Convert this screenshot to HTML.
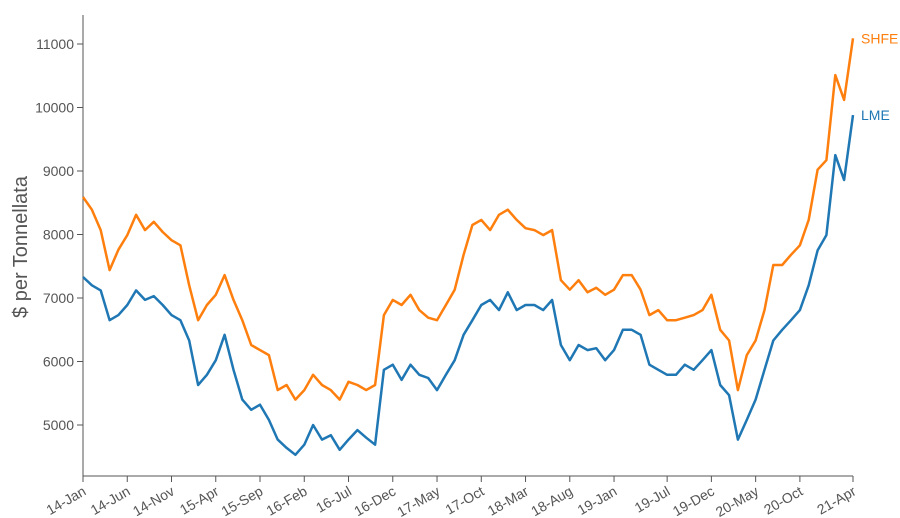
<!DOCTYPE html>
<html><head><meta charset="utf-8"><style>
html,body{margin:0;padding:0;background:#fff;}
svg{display:block;font-family:"Liberation Sans",sans-serif;}
</style></head><body>
<svg id="chart" width="900" height="518" viewBox="0 0 900 518">
<g id="axes"></g>
<g id="plot"></g>
<text transform="translate(27,247) rotate(-90)" text-anchor="middle" font-size="20" fill="#555">$ per Tonnellata</text>
</svg>
<script>
const months = 88;
const lmeValues = [7330,7200,7120,6650,6730,6890,7120,6970,7030,6890,6730,6650,6330,5630,5790,6020,6420,5870,5400,5240,5320,5080,4770,4640,4530,4690,5000,4770,4840,4610,4770,4920,4800,4690,5870,5950,5710,5950,5790,5740,5550,5790,6020,6420,6650,6890,6970,6810,7090,6810,6890,6890,6810,6970,6260,6020,6260,6180,6210,6020,6180,6500,6500,6420,5950,5870,5790,5790,5950,5870,6020,6180,5630,5470,4770,5080,5400,5870,6330,6500,6650,6810,7200,7750,7990,9250,8860,9880];
const shfeValues = [8590,8390,8070,7440,7760,7990,8310,8070,8200,8040,7910,7830,7200,6650,6890,7050,7360,6970,6650,6260,6180,6100,5550,5630,5400,5550,5790,5630,5550,5400,5680,5630,5550,5630,6730,6970,6890,7050,6810,6690,6650,6890,7130,7680,8150,8230,8070,8310,8390,8230,8100,8070,7990,8070,7280,7130,7280,7090,7160,7050,7130,7360,7360,7130,6730,6810,6650,6650,6690,6730,6810,7050,6500,6330,5550,6100,6330,6810,7520,7520,7680,7830,8230,9020,9170,10510,10120,11090];
const yTicks = [5000,6000,7000,8000,9000,10000,11000];
const xTickLabels = ["14-Jan","14-Jun","14-Nov","15-Apr","15-Sep","16-Feb","16-Jul","16-Dec","17-May","17-Oct","18-Mar","18-Aug","19-Jan","19-Jul","19-Dec","20-May","20-Oct","21-Apr"];
const xTickMonths = [0,5,10,15,20,25,30,35,40,45,50,55,60,66,71,76,81,87];

const X0=83, X1=853, Y0=476;
const x = m => X0 + m*(X1-X0)/(months-1);
const y = v => 44 + (11000 - v)*381/6000;
const NS="http://www.w3.org/2000/svg";
const axes=document.getElementById('axes'), plot=document.getElementById('plot');
function mk(tag,attrs,parent){const e=document.createElementNS(NS,tag);for(const k in attrs)e.setAttribute(k,attrs[k]);parent.appendChild(e);return e;}

let a=mk('line',{x1:X0,y1:15,x2:X0,y2:Y0,stroke:'#555','stroke-width':1},axes);


a=mk('line',{x1:X0,y1:Y0,x2:X1,y2:Y0,stroke:'#555','stroke-width':1},axes);



yTicks.forEach(v=>{
  const t=mk('line',{x1:X0-6,x2:X0,y1:y(v),y2:y(v),stroke:'#555'},axes);
  
  
  const l=mk('text',{x:X0-9,y:y(v)+5,'text-anchor':'end','font-size':14,fill:'#555'},axes);
  l.textContent=v;
  
  
});
xTickLabels.forEach((lab,i)=>{
  const px=x(xTickMonths[i]);
  const t=mk('line',{x1:px,x2:px,y1:Y0,y2:Y0+6,stroke:'#555'},axes);
  
  
  const l=mk('text',{x:px+4,y:Y0+18,'text-anchor':'end','font-size':14,fill:'#555',transform:`rotate(-30 ${px+4} ${Y0+18})`},axes);
  l.textContent=lab;
  
  
});

function series(vals,color,name,label){
  const d=vals.map((v,i)=>(i?'L':'M')+x(i).toFixed(1)+' '+y(v).toFixed(1)).join(' ');
  const p=mk('path',{d:d,fill:'none',stroke:color,'stroke-width':2.5,'stroke-linejoin':'round'},plot);
  
  
  const last=vals[vals.length-1];
  const l=mk('text',{x:X1+8,y:y(last)+5,'font-size':14,fill:color},plot);
  l.textContent=label;
  
  
}
series(shfeValues,'#ff7f0e','shfe','SHFE');
series(lmeValues,'#1f77b4','lme','LME');
</script>
</body></html>
